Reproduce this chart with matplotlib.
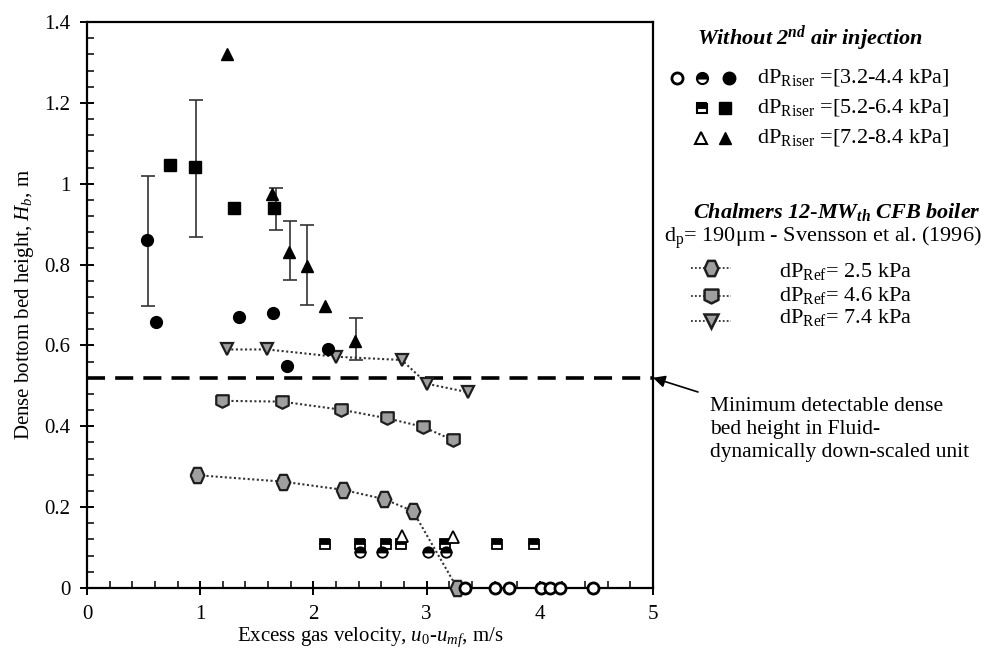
import matplotlib
matplotlib.use('Agg')
import matplotlib.pyplot as plt
import numpy as np
from matplotlib.ticker import MultipleLocator, FuncFormatter

plt.rcParams['font.family'] = ['Liberation Serif', 'DejaVu Serif']
plt.rcParams['mathtext.fontset'] = 'custom'
plt.rcParams['mathtext.rm'] = 'Liberation Serif'
plt.rcParams['mathtext.it'] = 'Liberation Serif:italic'
plt.rcParams['mathtext.bf'] = 'Liberation Serif:bold'
plt.rcParams['mathtext.bfit'] = 'Liberation Serif:bold:italic'

# ---------------- data ----------------
# dP_Riser = [3.2-4.4 kPa]
circ_full_x = [0.53, 0.61, 1.34, 1.64, 1.77, 2.13]
circ_full_y = [0.862, 0.657, 0.671, 0.680, 0.548, 0.591]
circ_half_x = [2.41, 2.61, 3.01, 3.17]
circ_half_y = [0.088, 0.088, 0.088, 0.088]
circ_open_x = [3.34, 3.60, 3.73, 4.01, 4.09, 4.18, 4.47]
circ_open_y = [0.0, 0.0, 0.0, 0.0, 0.0, 0.0, 0.0]
# dP_Riser = [5.2-6.4 kPa]
sq_full_x = [0.73, 0.95, 1.30, 1.655]
sq_full_y = [1.046, 1.041, 0.940, 0.940]
sq_half_x = [2.10, 2.41, 2.64, 2.77, 3.16, 3.62, 3.95]
sq_half_y = [0.110, 0.110, 0.110, 0.110, 0.110, 0.110, 0.110]
# dP_Riser = [7.2-8.4 kPa]
tri_full_x = [1.237, 1.634, 1.784, 1.94, 2.10, 2.37]
tri_full_y = [1.322, 0.974, 0.831, 0.796, 0.697, 0.610]
tri_open_x = [2.78, 3.23]
tri_open_y = [0.128, 0.125]
# error bars (x, low, high)
err_x = [0.54, 0.96, 1.67, 1.79, 1.94, 2.38]
err_lo = [0.698, 0.869, 0.886, 0.761, 0.700, 0.565]
err_hi = [1.019, 1.208, 0.990, 0.907, 0.897, 0.667]
# Chalmers 12-MWth CFB boiler reference
ref25_x = [0.975, 1.734, 2.259, 2.624, 2.88, 3.27]
ref25_y = [0.279, 0.263, 0.243, 0.220, 0.190, 0.0]
ref46_x = [1.195, 1.72, 2.247, 2.647, 2.965, 3.23]
ref46_y = [0.463, 0.461, 0.441, 0.420, 0.399, 0.366]
ref74_x = [1.234, 1.593, 2.20, 2.78, 3.006, 3.37]
ref74_y = [0.590, 0.590, 0.572, 0.564, 0.505, 0.484]
min_detect = 0.52

riser_labels = [r'dP$_{\mathrm{Riser}}$ =[3.2-4.4 kPa]',
                r'dP$_{\mathrm{Riser}}$ =[5.2-6.4 kPa]',
                r'dP$_{\mathrm{Riser}}$ =[7.2-8.4 kPa]']
ref_labels = [r'dP$_{\mathrm{Ref}}$= 2.5 kPa',
              r'dP$_{\mathrm{Ref}}$= 4.6 kPa',
              r'dP$_{\mathrm{Ref}}$= 7.4 kPa']

# ---------------- style ----------------
W, H = 997, 652
fig = plt.figure(figsize=(W / 100, H / 100), dpi=100)
ax = fig.add_axes([87 / W, 1 - 588 / H, (653 - 87) / W, (588 - 22) / H])

GRAY = '#9f9f9f'
EDGE = '#1e1e1e'
hexagon = [(-0.9, 0), (-0.45, 1), (0.45, 1), (0.9, 0), (0.45, -1), (-0.45, -1), (-0.9, 0)]
shield = [(-1, 1), (1, 1), (1, -0.5), (0, -1), (-1, -0.5), (-1, 1)]

ls_dot = (0, (1, 1.2))

def ref_series(a, x, y, marker, ms):
    a.plot(x, y, linestyle=ls_dot, color='#333333', lw=1.5, zorder=2)
    a.plot(x, y, linestyle='none', marker=marker, ms=ms, mfc=GRAY, mec=EDGE, mew=1.6,
           zorder=4, clip_on=False)

ref_series(ax, ref25_x, ref25_y, hexagon, 11)
ref_series(ax, ref46_x, ref46_y, shield, 9)
ref_series(ax, ref74_x, ref74_y, 'v', 9)

ax.axhline(min_detect, color='black', lw=2.6, dashes=(5, 2.8), zorder=1)

err_c = [(lo + hi) / 2 for lo, hi in zip(err_lo, err_hi)]
err_h = [(hi - lo) / 2 for lo, hi in zip(err_lo, err_hi)]
ax.errorbar(err_x, err_c, yerr=err_h, fmt='none', ecolor='#333333', elinewidth=1.2,
            capsize=5, capthick=1.2, zorder=3)

ax.plot(circ_full_x, circ_full_y, 'o', ms=8.5, color='black', zorder=5)
ax.plot(sq_full_x, sq_full_y, 's', ms=8, color='black', zorder=5)
ax.plot(tri_full_x, tri_full_y, '^', ms=9, color='black', zorder=5)
ax.plot(sq_half_x, sq_half_y, 's', ms=7.5, fillstyle='top', mfc='black', mfcalt='white',
        mec='black', mew=1.3, zorder=5)
ax.plot(circ_half_x, circ_half_y, 'o', ms=7.5, fillstyle='top', mfc='black', mfcalt='white',
        mec='black', mew=1.3, zorder=5)
ax.plot(tri_open_x, tri_open_y, '^', ms=8, mfc='white', mec='black', mew=1.3, zorder=5)
ax.plot(circ_open_x, circ_open_y, 'o', ms=8, mfc='white', mec='black', mew=2, zorder=6,
        clip_on=False)

ax.set_xlim(0, 5)
ax.set_ylim(0, 1.4)
ax.xaxis.set_major_locator(MultipleLocator(1))
ax.xaxis.set_minor_locator(MultipleLocator(0.2))
ax.yaxis.set_major_locator(MultipleLocator(0.2))
ax.yaxis.set_minor_locator(MultipleLocator(0.04))
ax.yaxis.set_major_formatter(FuncFormatter(lambda v, p: f'{v:g}'))
ax.tick_params(which='major', direction='inout', length=10, width=1.4, labelsize=15,
               top=False, right=False, pad=7)
ax.tick_params(which='minor', direction='in', length=5, width=1.1, top=False, right=False)
for s in ax.spines.values():
    s.set_linewidth(1.6)

ax.set_xlabel(r'Excess gas velocity, $u_{0}$-$u_{mf}$, m/s', fontsize=15, labelpad=1)
ax.set_ylabel(r'Dense bottom bed height, $H_{b}$, m', fontsize=15, labelpad=6)

# annotation
ax.annotate('', xy=(5, min_detect), xycoords='data', xytext=(698, H - 392),
            textcoords='figure pixels',
            arrowprops=dict(arrowstyle='-|>', color='black', lw=1.2,
                            mutation_scale=18, shrinkA=0, shrinkB=0),
            annotation_clip=False)
fig.text(710 / W, 1 - 397 / H,
         'Minimum detectable dense\nbed height in Fluid-\ndynamically down-scaled unit',
         fontsize=15.5, va='top', ha='left', linespacing=1.3)

# ---------------- legend ----------------
lg = fig.add_axes([650 / W, 0, (W - 650) / W, 1])
lg.set_xlim(650, W)
lg.set_ylim(H, 0)
lg.axis('off')
lg.patch.set_alpha(0)

fig.text(810 / W, 1 - 38 / H, r'$\mathbfit{Without\ 2^{nd}\ air\ injection}$',
         fontsize=16, ha='center', va='center')
rows = [78, 108, 138]
lg.plot([677], [rows[0]], 'o', ms=8, mfc='white', mec='black', mew=2)
lg.plot([702], [rows[0]], 'o', ms=8, fillstyle='top', mfc='black', mfcalt='white', mec='black', mew=1.5)
lg.plot([729], [rows[0]], 'o', ms=9, color='black')
lg.plot([702], [rows[1]], 's', ms=7, fillstyle='top', mfc='black', mfcalt='white', mec='black', mew=1.5)
lg.plot([725], [rows[1]], 's', ms=8, color='black')
lg.plot([701], [rows[2]], '^', ms=8, mfc='white', mec='black', mew=1.5)
lg.plot([725], [rows[2]], '^', ms=9, color='black')
for r, t in zip(rows, riser_labels):
    lg.text(757, r, t, fontsize=16, va='center', ha='left')

fig.text(837 / W, 1 - 212 / H, r'$\mathbfit{Chalmers\ 12\text{-}MW_{th}\ CFB\ boiler}$',
         fontsize=16, ha='center', va='center')
fig.text(823 / W, 1 - 238 / H, r'd$_{\mathrm{p}}$= 190μm - Svensson et al. (1996)',
         fontsize=16, ha='center', va='center')
mrows = [268, 296, 321]
trows = [272, 296, 318]
for r, mk, ms in zip(mrows, [hexagon, shield, 'v'], [11, 10, 10]):
    lg.plot([691, 731], [r, r], linestyle=ls_dot, color='#333333', lw=1.3)
    lg.plot([711], [r], linestyle='none', marker=mk, ms=ms, mfc=GRAY, mec=EDGE, mew=1.8)
for r, t in zip(trows, ref_labels):
    lg.text(779, r, t, fontsize=16, va='center', ha='left')

fig.savefig('out.png', dpi=100)
